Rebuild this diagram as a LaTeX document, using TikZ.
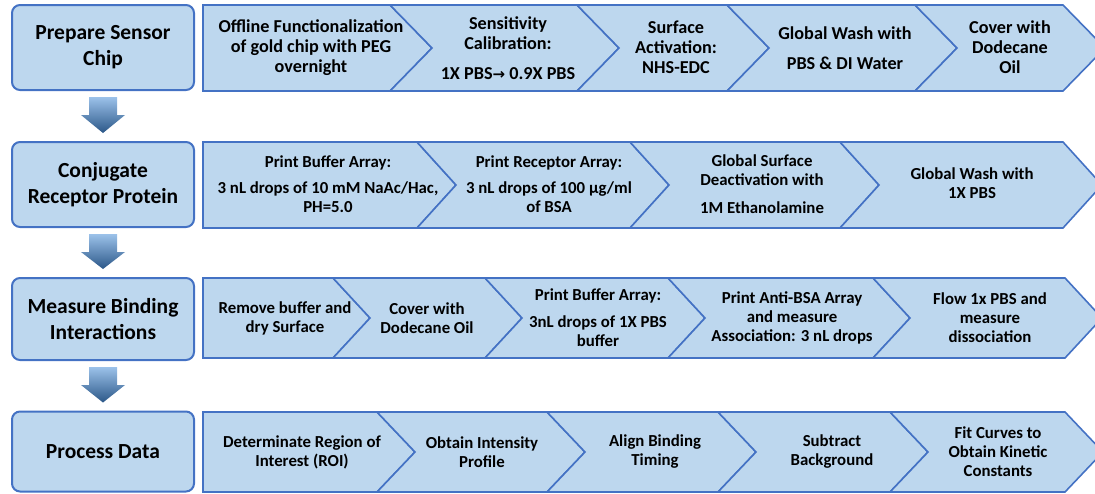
\documentclass[tikz,border=0pt]{standalone}
\usepackage{fontspec}
\setmainfont{Carlito}
\newfontfamily\symfont{DejaVu Sans}
\usepackage{tikz}
\definecolor{chipfill}{HTML}{BDD7EE}
\definecolor{chipline}{HTML}{4472C4}
\definecolor{arrowtop}{HTML}{9CC2EA}
\definecolor{arrowmid}{HTML}{5B8CC8}
\definecolor{arrowlow}{HTML}{2B5788}
\newcommand{\unitsize}{1pt}
\newcommand{\flowarrow}[2]{\shade[flowarrow] ([xshift=-14pt,yshift=-6pt]#1.south) -- ([xshift=14pt,yshift=-6pt]#1.south) -- ([xshift=14pt,yshift=-24pt]#1.south) -- ([xshift=22pt,yshift=-24pt]#1.south) -- ([yshift=8pt]#2.north) -- ([xshift=-22pt,yshift=-24pt]#1.south) -- ([xshift=-14pt,yshift=-24pt]#1.south) -- cycle;}
\tikzset{
  phase/.style={draw=chipline, fill=chipfill, line width=2pt, rounded corners=8pt,
    minimum width=182*\unitsize, inner sep=0pt, align=center,
    font=\fontsize{21.5}{26}\selectfont\bfseries},
  stage/.style={draw=chipline, fill=chipfill, line width=1.6pt, line join=miter},
  stagetext/.style={align=center, inner sep=0pt, font=\fontsize{16.8}{19}\selectfont\bfseries},
  stagetextlarge/.style={stagetext, font=\fontsize{18.2}{20}\selectfont\bfseries},
  flowarrow/.style={top color=arrowtop, middle color=arrowmid, bottom color=arrowlow}
}

\begin{document}
\begin{tikzpicture}[x=\unitsize,y=-\unitsize]
\useasboundingbox (0,0) rectangle (1095,493);

% phases on the left
\node[phase, minimum height=85*\unitsize] (prep) at (103,47.5) {Prepare Sensor\\Chip};
\node[phase, minimum height=85*\unitsize] (conj) at (103,184.5) {Conjugate\\Receptor Protein};
\node[phase, minimum height=82*\unitsize] (meas) at (103,319) {Measure Binding\\Interactions};
\node[phase, minimum height=80*\unitsize] (proc) at (103,451.5) {Process Data};

\flowarrow{prep}{conj}
\flowarrow{conj}{meas}
\flowarrow{meas}{proc}

% row 1
\draw[stage] (203,5) -- (390,5) -- (432,48) -- (390,91) -- (203,91) -- cycle;
\draw[stage] (390,5) -- (577,5) -- (619,48) -- (577,91) -- (390,91) -- (432,48) -- cycle;
\draw[stage] (577,5) -- (727,5) -- (769,48) -- (727,91) -- (577,91) -- (619,48) -- cycle;
\draw[stage] (727,5) -- (915,5) -- (957,48) -- (915,91) -- (727,91) -- (769,48) -- cycle;
\draw[stage] (915,5) -- (1063,5) -- (1105,48) -- (1063,91) -- (915,91) -- (957,48) -- cycle;

\node[stagetextlarge] (prep1) at (311,48) {Offline Functionalization\\of gold chip with PEG\\overnight};
\node[stagetextlarge] (prep2) at (508,48) {Sensitivity\\Calibration:\\[10pt]1X PBS{\symfont\bfseries\fontsize{15}{20}\selectfont →} 0.9X PBS};
\node[stagetextlarge] (prep3) at (676,47) {Surface\\Activation:\\NHS-EDC};
\node[stagetextlarge] (prep4) at (845,48) {Global Wash with\\[10pt]PBS \& DI Water};
\node[stagetextlarge] (prep5) at (1010,47.5) {Cover with\\Dodecane\\Oil};

% row 2
\draw[stage] (203,142) -- (417,142) -- (456,185) -- (417,228) -- (203,228) -- cycle;
\draw[stage] (417,142) -- (630,142) -- (669,185) -- (630,228) -- (417,228) -- (456,185) -- cycle;
\draw[stage] (630,142) -- (840,142) -- (879,185) -- (840,228) -- (630,228) -- (669,185) -- cycle;
\draw[stage] (840,142) -- (1063,142) -- (1102,185) -- (1063,228) -- (840,228) -- (879,185) -- cycle;

\node[stagetext] (conj1) at (328,184.5) {Print Buffer Array:\\[7pt]3 nL drops of 10 mM NaAc/Hac,\\PH=5.0};
\node[stagetext] (conj2) at (549,184.5) {Print Receptor Array:\\[7pt]3 nL drops of 100 µg/ml\\of BSA};
\node[stagetext] (conj3) at (762,184.5) {Global Surface\\Deactivation with\\[9pt]1M Ethanolamine};
\node[stagetext] (conj4) at (972,183.5) {Global Wash with\\1X PBS};

% row 3
\draw[stage] (203,278) -- (333,278) -- (370,318) -- (333,358) -- (203,358) -- cycle;
\draw[stage] (333,278) -- (485,278) -- (522,318) -- (485,358) -- (333,358) -- (370,318) -- cycle;
\draw[stage] (485,278) -- (668,278) -- (705,318) -- (668,358) -- (485,358) -- (522,318) -- cycle;
\draw[stage] (668,278) -- (873,278) -- (910,318) -- (873,358) -- (668,358) -- (705,318) -- cycle;
\draw[stage] (873,278) -- (1065,278) -- (1102,318) -- (1065,358) -- (873,358) -- (910,318) -- cycle;

\node[stagetext] (meas1) at (285,318.5) {Remove buffer and\\dry Surface};
\node[stagetext] (meas2) at (427,318) {Cover with\\Dodecane Oil};
\node[stagetext] (meas3) at (598,317.5) {Print Buffer Array:\\[8pt]3nL drops of 1X PBS\\buffer};
\node[stagetext] (meas4) at (792,318) {Print Anti-BSA Array\\and measure\\Association: 3 nL drops};
\node[stagetext] (meas5) at (990,317.5) {Flow 1x PBS and\\measure\\dissociation};

% row 4
\draw[stage] (203,412) -- (377,412) -- (415,452) -- (377,492) -- (203,492) -- cycle;
\draw[stage] (377,412) -- (547,412) -- (585,452) -- (547,492) -- (377,492) -- (415,452) -- cycle;
\draw[stage] (547,412) -- (718,412) -- (756,452) -- (718,492) -- (547,492) -- (585,452) -- cycle;
\draw[stage] (718,412) -- (890,412) -- (928,452) -- (890,492) -- (718,492) -- (756,452) -- cycle;
\draw[stage] (890,412) -- (1065,412) -- (1103,452) -- (1065,492) -- (890,492) -- (928,452) -- cycle;

\node[stagetext] (proc1) at (302,452) {Determinate Region of\\Interest (ROI)};
\node[stagetext] (proc2) at (482,452) {Obtain Intensity\\Profile};
\node[stagetext] (proc3) at (655,452) {Align Binding\\Timing};
\node[stagetext] (proc4) at (832,452) {Subtract\\Background};
\node[stagetext] (proc5) at (998,451.5) {Fit Curves to\\Obtain Kinetic\\Constants};

\end{tikzpicture}
\end{document}
